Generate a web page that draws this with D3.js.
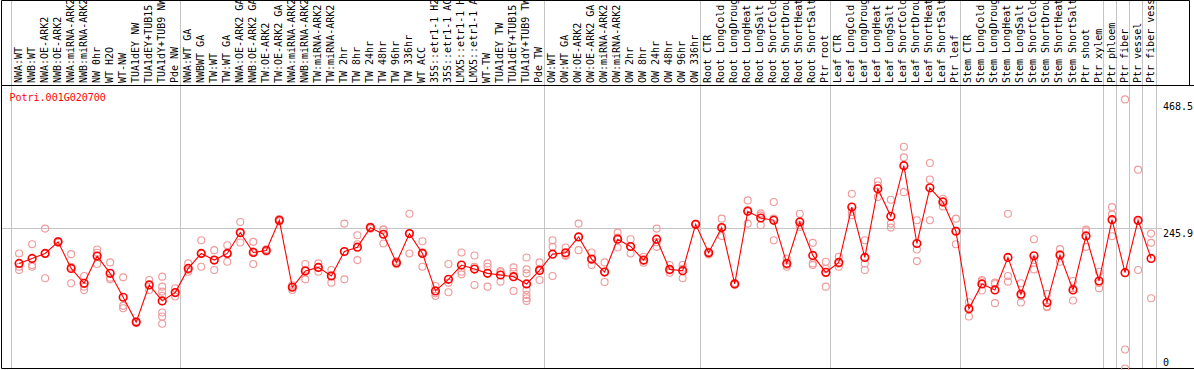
<!DOCTYPE html>
<html>
<head>
<meta charset="utf-8">
<script src="https://cdn.jsdelivr.net/npm/d3@7"></script>
<style>
  body { margin: 0; background: #fff; }
  svg { display: block; }
  text { font-family: "DejaVu Sans Mono", monospace; font-size: 10px; }
</style>
</head>
<body>
<div id="chart"></div>
<script>
const geneId = "Potri.001G020700";

const labels = [
  "NWA:WT", "NWB:WT", "NWA:OE-ARK2", "NWB:OE-ARK2", "NWA:miRNA-ARK2", "NWB:miRNA-ARK2",
  "NW 0hr", "WT H2O", "WT-NW", "TUA1dEY NW", "TUA1dEY+TUB15 NW", "TUA1dY+TUB9 NW", "Pde NW",
  "NWA:WT GA", "NWBWT GA", "TW:WT", "TW:WT GA", "NWA:OE-ARK2 GA", "NWB:OE-ARK2 GA",
  "TW:OE-ARK2", "TW:OE-ARK2 GA", "NWA:miRNA-ARK2", "NWB:miRNA-ARK2", "TW:miRNA-ARK2",
  "TW:miRNA-ARK2", "TW 2hr", "TW 8hr", "TW 24hr", "TW 48hr", "TW 96hr", "TW 336hr",
  "WT ACC", "35S::etr1-1 H2O", "35S::etr1-1 ACC", "LMX5::etr1-1 H2O", "LMX5::etr1-1 ACC",
  "WT-TW", "TUA1dEY TW", "TUA1dEY+TUB15 TW", "TUA1dY+TUB9 TW", "Pde TW",
  "OW:WT", "OW:WT GA", "OW:OE-ARK2", "OW:OE-ARK2 GA", "OW:miRNA-ARK2", "OW:miRNA-ARK2",
  "OW 2hr", "OW 8hr", "OW 24hr", "OW 48hr", "OW 96hr", "OW 336hr",
  "Root CTR", "Root LongCold", "Root LongDrought", "Root LongHeat", "Root LongSalt",
  "Root ShortCold", "Root ShortDrought", "Root ShortHeat", "Root ShortSalt", "Ptr root",
  "Leaf CTR", "Leaf LongCold", "Leaf LongDrought", "Leaf LongHeat", "Leaf LongSalt",
  "Leaf ShortCold", "Leaf ShortDrought", "Leaf ShortHeat", "Leaf ShortSalt", "Ptr leaf",
  "Stem CTR", "Stem LongCold", "Stem LongDrought", "Stem LongHeat", "Stem LongSalt",
  "Stem ShortCold", "Stem ShortDrought", "Stem ShortHeat", "Stem ShortSalt", "Ptr shoot",
  "Ptr xylem", "Ptr phloem", "Ptr fiber", "Ptr vessel", "Ptr fiber vessel"
];

// mean expression per sample
const means = [
  184.3, 193.0, 201.8, 222.1, 175.6, 149.4, 197.1, 166.9, 125.0, 81.4, 146.5, 118.6, 133.2,
  175.6, 201.8, 190.1, 201.8, 238.4, 203.5, 207.0, 259.9, 142.5, 170.9, 177.3, 162.2,
  205.2, 212.8, 247.1, 235.5, 185.5, 236.6, 201.8, 136.1, 156.4, 181.4, 174.4, 166.9,
  164.0, 161.1, 148.3, 172.1,
  200.6, 202.9, 230.8, 191.9, 169.2, 226.8, 214.0, 190.1, 226.8, 173.8, 171.5, 252.9,
  202.9, 247.1, 148.3, 275.6, 264.0, 259.9, 184.3, 257.0, 198.3, 168.6,
  186.1, 283.1, 194.8, 315.1, 266.9, 355.8, 219.2, 316.9, 291.9, 240.7,
  104.7, 148.3, 137.8, 194.8, 130.3, 197.7, 115.7, 198.9, 137.8, 232.6, 153.5,
  261.1, 168.0, 259.9, 193.0
];

// individual replicates per sample
const reps = [
  [201.7, 178.5, 172.7], [218.0, 181.4, 178.5], [245.4, 201.8, 158.2], [220.5, 222.1, 223.7],
  [200.6, 178.5, 149.4], [162.2, 143.6, 137.8], [208.7, 202.9, 183.2], [186.1, 159.3, 156.4],
  [159.9, 109.9, 105.8], [83.0, 81.0, 80.0], [155.3, 146.5, 137.8],
  [161.1, 143.6, 134.9, 127.4, 98.3, 91.3, 78.5], [140.7, 132.7, 126.2],
  [184.3, 172.7, 169.8], [225.0, 201.8, 178.5], [207.6, 190.1, 172.7], [216.3, 201.8, 187.2],
  [257.0, 237.3, 220.9], [222.1, 205.2, 183.2], [205.0, 207.0, 209.0], [258.0, 260.0, 262.0],
  [146.0, 144.0, 137.8], [183.2, 173.0, 156.4], [184.3, 177.8, 169.8], [172.7, 163.3, 150.6],
  [254.1, 205.1, 156.4], [233.7, 218.0, 190.1], [249.0, 247.0, 245.0], [243.6, 243.7, 219.2],
  [188.0, 185.0, 183.0], [271.5, 236.5, 201.8], [223.3, 203.6, 178.5], [144.8, 132.0, 127.4],
  [183.2, 150.6, 133.7], [203.5, 169.8, 165.1], [198.3, 178.5, 146.5], [184.3, 178.5, 143.6],
  [170.9, 168.8, 152.3], [177.3, 169.8, 136.1],
  [194.8, 173.9, 166.9, 137.8, 129.1, 123.3, 118.6], [186.1, 174.9, 155.3],
  [225.0, 213.4, 162.2], [212.2, 198.9, 197.7], [254.1, 230.8, 207.6], [203.5, 190.8, 181.4],
  [186.1, 169.7, 151.8], [238.4, 229.8, 212.2], [226.8, 213.4, 201.8], [195.9, 188.9, 185.5],
  [245.4, 221.6, 213.4], [181.4, 172.0, 168.0], [181.4, 174.9, 158.2], [254.0, 253.0, 252.0],
  [204.0, 200.0, 204.5], [262.8, 246.0, 232.6], [150.0, 147.0, 148.0], [294.8, 277.8, 254.1],
  [272.1, 268.6, 251.2], [291.9, 262.8, 225.0], [193.0, 181.4, 178.5], [271.5, 251.2, 248.3],
  [220.4, 184.3, 181.4], [187.2, 175.0, 143.6],
  [195.9, 183.9, 178.5], [306.4, 274.4, 268.6], [225.0, 184.3, 172.7], [328.5, 320.9, 300.6],
  [295.9, 254.1, 247.1], [388.9, 370.3, 309.3], [259.9, 208.7, 188.4], [360.5, 331.4, 259.9],
  [297.7, 293.7, 284.3], [262.8, 241.3, 218.0],
  [116.3, 106.5, 91.3], [155.3, 152.9, 136.7], [150.6, 148.2, 114.6], [271.5, 162.2, 152.3],
  [149.4, 127.4, 115.7], [226.8, 190.1, 173.8], [130.9, 108.6, 107.6], [209.3, 200.2, 187.2],
  [153.5, 140.7, 119.2], [243.6, 240.8, 213.4], [169.8, 150.0, 140.7],
  [283.1, 270.4, 232.0], [472.0, 33.2, 0.0], [348.8, 258.3, 172.7], [236.6, 220.4, 123.3]
];

// sample indices where a gray separator is drawn
const separators = [0, 13, 41, 53, 63, 73, 84, 85, 86, 87, 88];
const yTicks = [0, 245.9, 468.5];

const W = 1194, H = 370;
const headerY = 85.5, bottomY = 368.5;

const svg = d3.select("#chart").append("svg")
  .attr("width", W)
  .attr("height", H);

const x = d3.scaleLinear()
  .domain([0, labels.length])
  .range([10.5, 1155.5]);
const cx = i => x(i + 0.66);

const y = d3.scaleLinear()
  .domain([0, 245.9])
  .range([bottomY, 228.3]);

// vertical separators
svg.append("g").selectAll("line")
  .data(separators)
  .enter().append("line")
  .attr("x1", d => Math.round(x(d)) + 0.5)
  .attr("x2", d => Math.round(x(d)) + 0.5)
  .attr("y1", 0)
  .attr("y2", bottomY)
  .attr("stroke", "#c4c4c4");

// middle horizontal grid line
svg.append("line")
  .attr("x1", 1).attr("x2", 1162)
  .attr("y1", Math.round(y(yTicks[1])) + 0.5)
  .attr("y2", Math.round(y(yTicks[1])) + 0.5)
  .attr("stroke", "#c4c4c4");

// frame
svg.append("path")
  .attr("d", `M1.5,${bottomY} V0.5 H1189.5 V${headerY} M1.5,${headerY} H${W} M1.5,${bottomY} H${W}`)
  .attr("fill", "none")
  .attr("stroke", "#000");

// sample labels, rotated
svg.append("g").selectAll("text")
  .data(labels)
  .enter().append("text")
  .attr("transform", (d, i) => `translate(${cx(i) + 2.5},83)rotate(-90)`)
  .attr("fill", "#000")
  .text(d => d);

// replicate circles
const repPts = [];
reps.forEach((r, i) => r.forEach(v => repPts.push({ i: i, v: v })));
svg.append("g").selectAll("circle")
  .data(repPts)
  .enter().append("circle")
  .attr("cx", d => cx(d.i))
  .attr("cy", d => y(d.v))
  .attr("r", 3.5)
  .attr("fill", "none")
  .attr("stroke", "#ef9a9a")
  .attr("stroke-width", 1.1);

// mean line
const line = d3.line()
  .x((d, i) => cx(i))
  .y(d => y(d));

svg.append("path")
  .datum(means)
  .attr("d", line)
  .attr("fill", "none")
  .attr("stroke", "#ff0000")
  .attr("stroke-width", 1.1);

svg.append("g").selectAll("circle")
  .data(means)
  .enter().append("circle")
  .attr("cx", (d, i) => cx(i))
  .attr("cy", d => y(d))
  .attr("r", 3.8)
  .attr("fill", "none")
  .attr("stroke", "#ff0000")
  .attr("stroke-width", 1.6);

// y labels
svg.append("g").selectAll("text")
  .data(yTicks)
  .enter().append("text")
  .attr("x", 1163)
  .attr("y", d => d === 0 ? y(d) - 3 : y(d) + 9)
  .attr("fill", "#000")
  .text(d => d);

// gene id
svg.append("text")
  .attr("x", 9.5)
  .attr("y", 100.5)
  .attr("fill", "#ff0000")
  .text(geneId);
</script>
</body>
</html>
